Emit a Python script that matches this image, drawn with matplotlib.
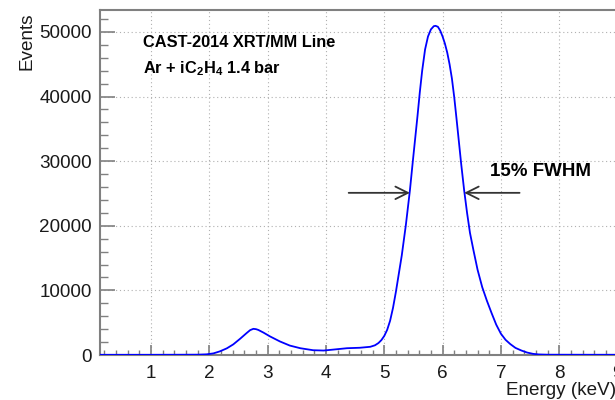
import numpy as np
import matplotlib
matplotlib.use("Agg")
import matplotlib.pyplot as plt
from matplotlib.ticker import MultipleLocator

plt.rcParams['font.family'] = ['Liberation Sans', 'DejaVu Sans']
plt.rcParams['mathtext.fontset'] = 'custom'
plt.rcParams['mathtext.rm'] = 'Liberation Sans'
plt.rcParams['mathtext.bf'] = 'Liberation Sans:bold'

# ---- data ----
energy_kev = [0.125, 0.5, 1.0, 1.5, 1.8, 1.95, 2.07, 2.18, 2.30, 2.41, 2.53, 2.64,
              2.70, 2.755, 2.80, 2.84, 2.93, 3.04, 3.21, 3.38, 3.56, 3.78, 3.96, 4.13,
              4.36, 4.58, 4.76, 4.84, 4.90, 4.95, 5.00, 5.05, 5.10, 5.15, 5.20, 5.25,
              5.30, 5.37, 5.44, 5.49, 5.53, 5.57, 5.61, 5.65, 5.70, 5.75, 5.80,
              5.85, 5.88, 5.92, 5.96, 6.00, 6.04, 6.08, 6.12, 6.16, 6.20, 6.24,
              6.28, 6.32, 6.37, 6.42, 6.47, 6.53, 6.60, 6.68, 6.76, 6.84, 6.92,
              7.00, 7.08, 7.16, 7.25, 7.35, 7.45, 7.55, 7.65, 7.80, 8.5, 9.3]
events = [30, 30, 30, 40, 50, 100, 250, 560, 1030, 1640, 2530, 3400,
          3850, 4050, 4000, 3880, 3460, 2880, 2100, 1460, 1050, 740, 690, 840,
          1050, 1120, 1270, 1500, 1850, 2300, 2950, 3900, 5300, 7300, 9800, 12600,
          15400, 20100, 25500, 30000, 33500, 37000, 40700, 44000, 47300, 49300, 50400,
          50900, 50950, 50800, 50200, 49300, 48200, 46800, 45000, 42800, 39900, 36500,
          33000, 29500, 25500, 22000, 18900, 16200, 13200, 10500, 8400, 6500, 4700,
          3300, 2350, 1700, 1100, 700, 380, 180, 85, 45, 35, 35]

x_ticks = [1, 2, 3, 4, 5, 6, 7, 8, 9]
y_ticks = [0, 10000, 20000, 30000, 40000, 50000]

title_line1 = "CAST-2014 XRT/MM Line"
title_line2 = r"Ar + iC$_\mathbf{2}$H$_\mathbf{4}$ 1.4 bar"
fwhm_label = "15% FWHM"

# ---- figure ----
fig = plt.figure(figsize=(6.15, 4.0), dpi=100)
ax = fig.add_axes([100 / 615, 45 / 400, 535 / 615, 345 / 400])

grey = '#808080'
ax.plot(energy_kev, events, color='#0000ff', lw=1.3, zorder=3)

ax.set_xlim(0.125, 9.3)
ax.set_ylim(0, 53400)
ax.set_xticks(x_ticks)
ax.set_xticklabels([str(t) for t in x_ticks])
ax.set_yticks(y_ticks)
ax.set_yticklabels([str(t) for t in y_ticks])
ax.xaxis.set_minor_locator(MultipleLocator(0.2))
ax.yaxis.set_minor_locator(MultipleLocator(2000))

ax.grid(True, which='major', color='#b0b0b0', lw=0.8, linestyle=(0, (1, 2.5)))
ax.set_axisbelow(True)

for side in ['left', 'bottom', 'top']:
    ax.spines[side].set_color(grey)
    ax.spines[side].set_linewidth(1.5)
ax.spines['right'].set_visible(False)

ax.tick_params(axis='y', which='major', direction='in', length=11, width=1.2,
               color=grey, labelsize=13.6, pad=6, labelcolor='#1a1a1a')
ax.tick_params(axis='y', which='minor', direction='in', length=5.5, width=1.0,
               color=grey)
ax.tick_params(axis='x', which='major', direction='in', length=7, width=1.2,
               color=grey, labelsize=13.6, pad=7, labelcolor='#1a1a1a')
ax.tick_params(axis='x', which='minor', direction='in', length=3.5, width=1.0,
               color=grey)

# axis titles (ROOT style, aligned to the ends)
fig.text(27 / 615, 1 - 12 / 400, "Events", rotation=90, ha='center', va='top',
         fontsize=13.6, color='#1a1a1a')
fig.text(506 / 615, (400 - 395) / 400, "Energy (keV)", ha='left', va='baseline',
         fontsize=13.6, color='#1a1a1a')

# labels
ax.text(0.081, 0.8936, title_line1, transform=ax.transAxes, fontsize=11.8,
        fontweight='bold', va='baseline', ha='left')
ax.text(0.081, 0.8165, title_line2, transform=ax.transAxes, fontsize=11.8,
        fontweight='bold', va='baseline', ha='left')

# FWHM arrows computed from the data
e = np.array(energy_kev)
c = np.array(events, dtype=float)
ipk = int(np.argmax(c))
half = c[ipk] / 2.0
start = 26
left_x = np.interp(half, c[start:ipk + 1], e[start:ipk + 1])
right_x = np.interp(-half, -c[ipk:], e[ipk:])
arrow_y = 25100
arrow_kw = dict(arrowstyle='->,head_length=0.9,head_width=0.45', color='#333333',
                lw=1.3, shrinkA=0, shrinkB=0)
ax.annotate('', xy=(left_x, arrow_y), xytext=(left_x - 1.05, arrow_y),
            arrowprops=arrow_kw, zorder=4)
ax.annotate('', xy=(right_x, arrow_y), xytext=(right_x + 0.95, arrow_y),
            arrowprops=arrow_kw, zorder=4)
ax.text(6.82, 27700, fwhm_label, fontsize=13.5, fontweight='bold',
        va='baseline', ha='left')

fig.savefig('out.png', dpi=100)
